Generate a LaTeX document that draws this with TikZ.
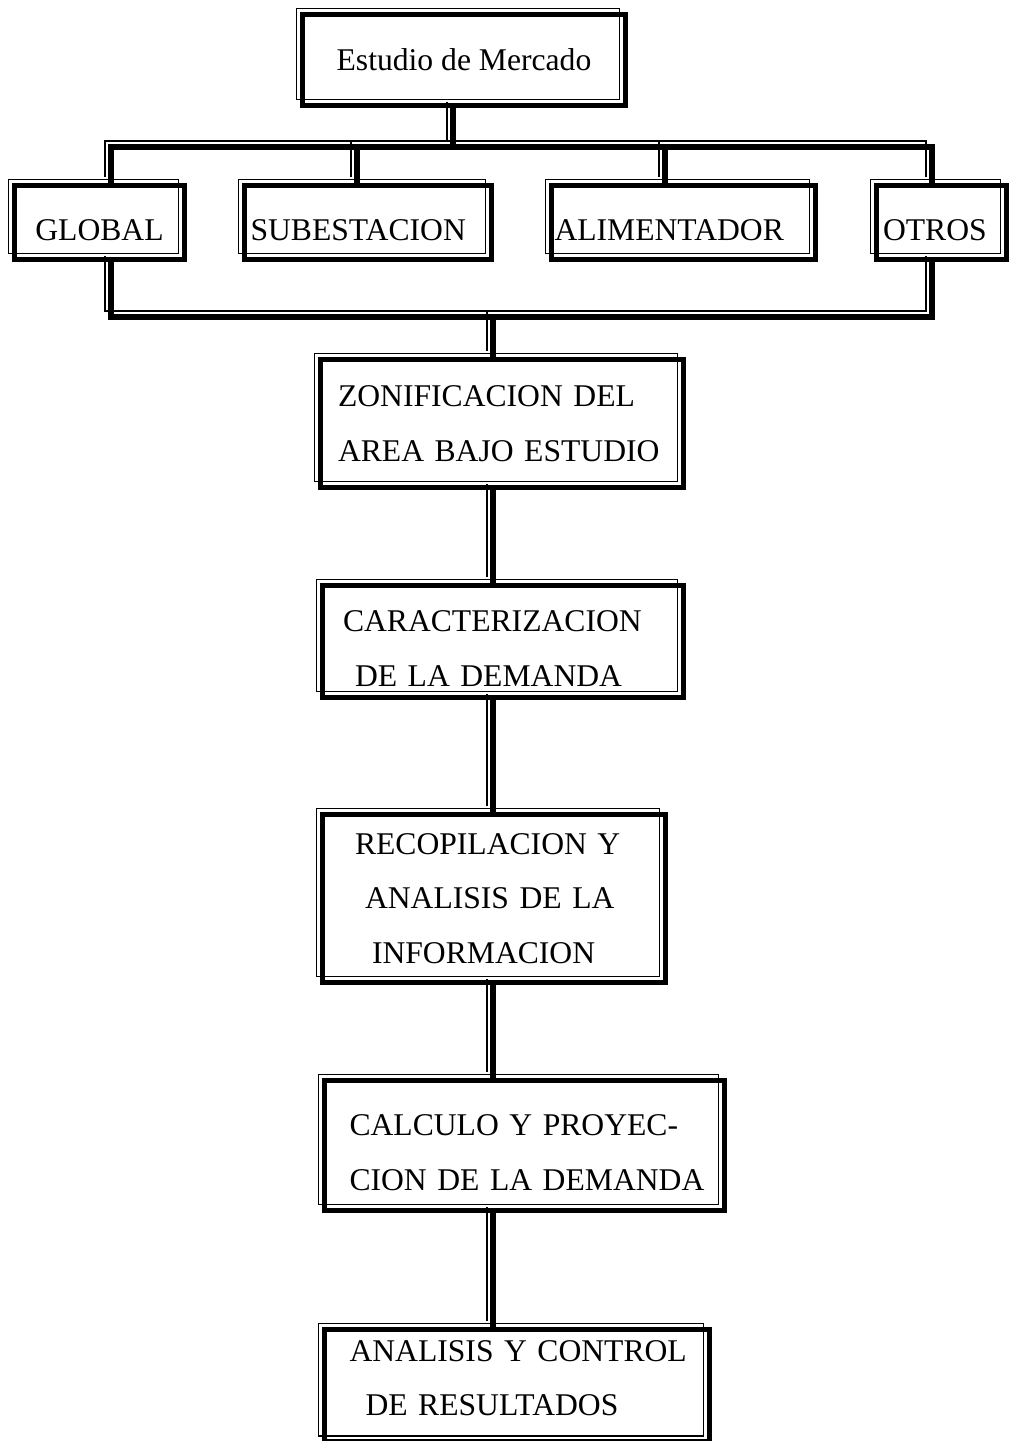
\documentclass[tikz,border=0pt]{standalone}
\usepackage{fontspec}
\setmainfont{Liberation Serif}
\usepackage{tikz}

\begin{document}
\begin{tikzpicture}[x = 0.02cm, y = -0.02cm,
  box/.style = {draw, line width = 3pt,
    preaction = {draw, line width = 0.8pt, transform canvas = {xshift = -0.12cm, yshift = 0.12cm}},
    font = \fontsize{18}{31}\selectfont, inner ysep = 0pt},
  level/.style = {box, text height = 20pt, text depth = 0pt, minimum height = 1.48cm},
  link/.style = {line width = 3pt,
    preaction = {draw, line width = 0.8pt, transform canvas = {xshift = -0.12cm, yshift = 0.12cm}}}]
\useasboundingbox (0, 0) rectangle (1009, 1441);

\node[box, minimum width = 6.46cm, minimum height = 1.82cm] (mercado) at (464, 60) {Estudio de Mercado};

% niveles de estudio
\node[level, minimum width = 3.4cm] (global) at (99.5, 222.5) {GLOBAL};
\node[level, align = left, text width = 4.7cm, inner xsep = 0.12cm] (subest) at (368, 222.5) {SUBESTACION};
\node[level, align = left, text width = 5.16cm, inner xsep = 0.06cm] (alim) at (683.5, 222.5) {ALIMENTADOR};
\node[level, align = left, text width = 2.34cm, inner xsep = 0.13cm] (otros) at (941.5, 222.5) {OTROS};

% etapas
\node[box, align = left, text width = 6.56cm, inner xsep = 0.35cm, minimum height = 2.56cm] (zona) at (502, 423.5)
  {ZONIFICACION DEL\\AREA BAJO ESTUDIO};
\node[box, align = left, text width = 6.4cm, inner xsep = 0.41cm, minimum height = 2.24cm, text height = 20pt] (caract) at (503, 641.5)
  {CARACTERIZACION\\\hspace*{0.24cm}DE LA DEMANDA};
\node[box, align = left, text width = 5.56cm, inner xsep = 0.65cm, minimum height = 3.36cm] (recop) at (494, 898.5)
  {RECOPILACION Y\\\hspace*{0.2cm}ANALISIS DE LA\\\hspace*{0.34cm}INFORMACION};
\node[box, align = left, text width = 7.2cm, inner xsep = 0.4cm, minimum height = 2.6cm, text height = 20pt] (calc) at (524.5, 1145.5)
  {\hspace*{0.1cm}CALCULO Y PROYEC-\\\hspace*{0.1cm}CION DE LA DEMANDA};
\node[box, align = left, text width = 7.1cm, inner xsep = 0.3cm, minimum height = 2.25cm, text depth = 40pt] (anal) at (517, 1385.75)
  {\hspace*{0.2cm}ANALISIS Y CONTROL\\\hspace*{0.52cm}DE RESULTADOS};

% barras
\coordinate (busA) at (111, 147);
\coordinate (busB) at (932, 147);
\coordinate (busC) at (111, 317);
\coordinate (busD) at (932, 317);
\coordinate (dropS) at (357, 147);
\coordinate (dropA) at (665, 147);
\coordinate (dropZ) at (493, 317);

\draw[link] (mercado.south -| 453, 0) -- (busA -| 453, 0);
\draw[link] (busA |- global.north) -- (busA) -- (busB) -- (busB |- otros.north);
\draw[link] (dropS) -- (dropS |- subest.north);
\draw[link] (dropA) -- (dropA |- alim.north);
\draw[link] (busC |- global.south) -- (busC) -- (busD) -- (busD |- otros.south);
\draw[link] (dropZ) -- (dropZ |- zona.north);
\foreach \a/\b in {zona/caract, caract/recop, recop/calc, calc/anal}
  \draw[link] (\a.south -| dropZ) -- (\b.north -| dropZ);
\end{tikzpicture}
\end{document}
